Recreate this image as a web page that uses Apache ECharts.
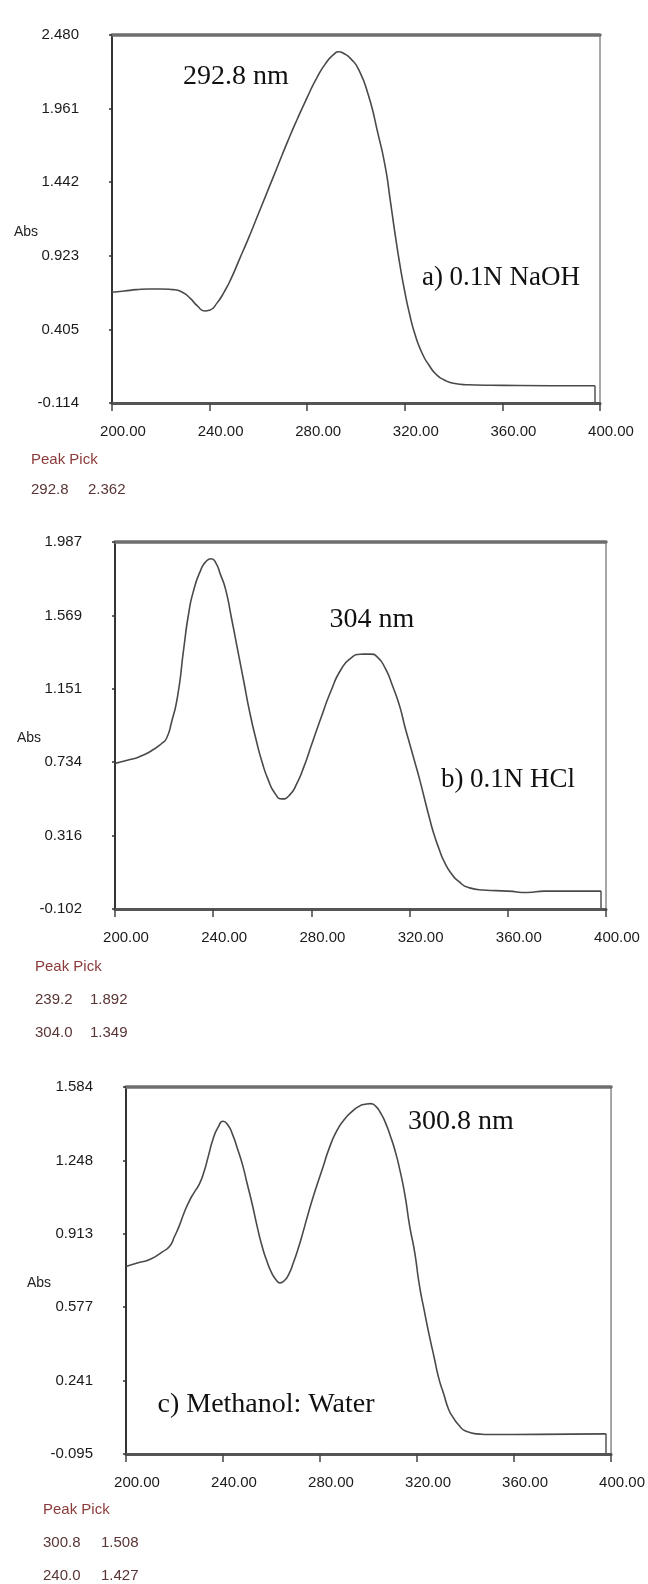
<!DOCTYPE html>
<html><head><meta charset="utf-8">
<script src="https://cdn.jsdelivr.net/npm/echarts@6/dist/echarts.min.js"></script>
<style>html,body{margin:0;padding:0;background:#fff}#c{width:648px;height:1584px}</style>
</head><body><div id="c"></div>
<script>
// ---------- data ----------
const xTickValues = [200, 240, 280, 320, 360, 400];
const yTicksA = ['-0.114', '0.405', '0.923', '1.442', '1.961', '2.480'];
const yTicksB = ['-0.102', '0.316', '0.734', '1.151', '1.569', '1.987'];
const yTicksC = ['-0.095', '0.241', '0.577', '0.913', '1.248', '1.584'];

const spectrumA = [
  [200,0.667],[205,0.675],[210,0.685],[215,0.69],[220,0.69],[225,0.685],[229,0.665],[232,0.625],
  [235,0.57],[238,0.535],[240,0.54],[243,0.59],[246,0.67],[249,0.77],[252,0.89],[256,1.05],
  [260,1.22],[264,1.39],[268,1.56],[272,1.73],[276,1.89],[280,2.04],[284,2.18],[288,2.29],
  [291,2.345],[292.8,2.362],[295,2.35],[298,2.31],[301,2.24],[305,2.06],[309,1.785],[312,1.55],
  [314,1.32],[316,1.08],[318,0.86],[320,0.67],[322,0.51],[324,0.38],[327,0.24],[330,0.15],
  [333,0.085],[336,0.05],[340,0.025],[345,0.015],[360,0.01],[380,0.008],[398,0.008]
];
const spectrumB = [
  [200,0.727],[205,0.745],[210,0.765],[215,0.80],[219,0.84],[221,0.87],[223,0.96],[225.5,1.11],
  [228,1.38],[230,1.58],[232,1.71],[235,1.83],[237,1.875],[239.2,1.892],[241,1.87],[243,1.80],
  [245,1.72],[247.5,1.55],[250,1.37],[252.5,1.19],[255,1.01],[257.5,0.86],[260,0.73],[262.5,0.63],
  [265,0.56],[268,0.525],[271,0.545],[274,0.61],[277,0.71],[280,0.83],[284,0.99],[288,1.14],
  [292,1.26],[296,1.325],[300,1.348],[304,1.349],[307,1.33],[310,1.27],[313,1.17],[316,1.05],
  [318,0.94],[320,0.84],[322,0.74],[324,0.64],[326,0.53],[328,0.42],[330,0.32],[332,0.24],
  [334,0.17],[337,0.10],[340,0.055],[344,0.02],[350,0.006],[360,0.0],[368,-0.008],[375,0.0],[398,0.0]
];
const spectrumC = [
  [200,0.763],[205,0.78],[210,0.796],[215,0.83],[218,0.855],[220,0.90],[222,0.95],[224,1.01],
  [226,1.06],[228,1.10],[230,1.135],[232,1.19],[234,1.27],[236,1.35],[238,1.40],[240,1.427],
  [242,1.41],[244,1.365],[246,1.30],[248,1.23],[250,1.14],[252,1.05],[254,0.95],[256,0.86],
  [258,0.79],[260,0.735],[262,0.70],[263.5,0.688],[265,0.695],[267,0.725],[269,0.78],[271,0.845],
  [273,0.92],[275,1.0],[278,1.11],[281,1.21],[284,1.31],[287,1.385],[290,1.435],[293,1.47],
  [296,1.495],[298.5,1.505],[300.8,1.508],[303,1.495],[305,1.465],[307,1.42],[309,1.36],[311,1.29],
  [313,1.20],[315,1.09],[317,0.945],[319,0.83],[321,0.675],[323,0.56],[325,0.45],[327,0.35],
  [329,0.25],[331,0.18],[333,0.11],[335,0.07],[337,0.04],[340,0.01],[345,-0.003],[350,-0.006],
  [370,-0.005],[398,-0.003]
];

const peaksA = [[292.8, 2.362]];
const peaksB = [[239.2, 1.892], [304.0, 1.349]];
const peaksC = [[300.8, 1.508], [240.0, 1.427]];

const peakLabels = ['292.8 nm', '304 nm', '300.8 nm'];
const solventLabels = ['a) 0.1N NaOH', 'b) 0.1N HCl', 'c) Methanol: Water'];

// ---------- layout ----------
const panels = [
  {grid:{left:112, top:35, width:488, height:368}, ticks:yTicksA, data:spectrumA, peaks:peaksA,
   nm:[236,77], sol:[501,278], abs:[14,232], pp:[31,460], rowGap:30, col2:57},
  {grid:{left:115, top:542, width:491, height:367}, ticks:yTicksB, data:spectrumB, peaks:peaksB,
   nm:[372,620], sol:[508,780], abs:[17,738], pp:[35,967], rowGap:33, col2:55},
  {grid:{left:126, top:1087, width:488, height:367}, ticks:yTicksC, data:spectrumC, peaks:peaksC,
   nm:[461,1122], sol:[266,1405], abs:[27,1283], pp:[43,1510], rowGap:33, col2:58}
];

const grids = [], xAxes = [], yAxes = [], series = [], graphics = [];
const sans = '"Liberation Sans", Arial, sans-serif';
const serif = '"Liberation Serif", "Times New Roman", serif';

panels.forEach((p, i) => {
  grids.push(Object.assign({show:true, borderColor:'#8a8a8a', borderWidth:1.5, backgroundColor:'#fff'}, p.grid));
  const ymin = parseFloat(p.ticks[0]), ymax = parseFloat(p.ticks[p.ticks.length-1]);
  const yint = (ymax - ymin) / (p.ticks.length - 1);
  xAxes.push({
    gridIndex:i, type:'value', min:xTickValues[0], max:xTickValues[xTickValues.length-1],
    interval:xTickValues[1]-xTickValues[0], position:'bottom',
    axisLine:{show:true, onZero:false, lineStyle:{color:'#555', width:3}},
    axisTick:{show:true, length:8, lineStyle:{color:'#444', width:1.5}},
    splitLine:{show:false},
    axisLabel:{margin:21, padding:[0,0,0,22], color:'#1a1a1a', fontSize:15, fontFamily:sans,
      formatter:v => v.toFixed(2), showMinLabel:true, showMaxLabel:true}
  });
  xAxes.push({
    gridIndex:i, type:'value', min:xTickValues[0], max:xTickValues[xTickValues.length-1], position:'top',
    axisLine:{show:true, onZero:false, lineStyle:{color:'#6e6e6e', width:3.5}},
    axisTick:{show:false}, axisLabel:{show:false}, splitLine:{show:false}
  });
  yAxes.push({
    gridIndex:i, type:'value', min:ymin, max:ymax, interval:yint,
    axisLine:{show:true, onZero:false, lineStyle:{color:'#333', width:2}},
    axisTick:{show:true, length:3, lineStyle:{color:'#333', width:1.5}},
    splitLine:{show:false},
    axisLabel:{margin:33, color:'#1a1a1a', fontSize:15, fontFamily:sans,
      formatter:v => {
        let best = 0, bd = Infinity;
        p.ticks.forEach((t, k) => { const d = Math.abs(parseFloat(t) - v); if (d < bd) { bd = d; best = k; } });
        return p.ticks[best];
      }}
  });
  const last = p.data[p.data.length-1];
  series.push({
    type:'line', xAxisIndex:i*2, yAxisIndex:i, data:p.data, showSymbol:false, smooth:0.6,
    lineStyle:{color:'#4a4a4a', width:1.6}, silent:true,
    markLine:{silent:true, symbol:'none', label:{show:false},
      lineStyle:{color:'#555', width:1.5, type:'solid'},
      data:[[{coord:[last[0], last[1]]}, {coord:[last[0], ymin]}]]}
  });
  // annotations
  graphics.push({type:'text', x:p.nm[0], y:p.nm[1], style:{text:peakLabels[i], font:'28px ' + serif,
    fill:'#111', align:'center', verticalAlign:'middle'}});
  graphics.push({type:'text', x:p.sol[0], y:p.sol[1], style:{text:solventLabels[i], font:(i===2?'28px ':'27px ') + serif,
    fill:'#111', align:'center', verticalAlign:'middle'}});
  graphics.push({type:'text', x:p.abs[0], y:p.abs[1], style:{text:'Abs', font:'14px ' + sans,
    fill:'#222', align:'left', verticalAlign:'middle'}});
  graphics.push({type:'text', x:p.pp[0], y:p.pp[1], style:{text:'Peak Pick', font:'15px ' + sans,
    fill:'#8b3a3a', align:'left', verticalAlign:'middle'}});
  p.peaks.forEach((pk, k) => {
    const yy = p.pp[1] + p.rowGap * (k + 1);
    graphics.push({type:'text', x:p.pp[0], y:yy, style:{text:pk[0].toFixed(1), font:'15px ' + sans,
      fill:'#5a3535', align:'left', verticalAlign:'middle'}});
    graphics.push({type:'text', x:p.pp[0] + p.col2, y:yy, style:{text:pk[1].toFixed(3), font:'15px ' + sans,
      fill:'#5a3535', align:'left', verticalAlign:'middle'}});
  });
});

const chart = echarts.init(document.getElementById('c'), null, {renderer:'canvas'});
chart.setOption({
  animation:false, backgroundColor:'#fff',
  grid:grids, xAxis:xAxes, yAxis:yAxes, series:series, graphic:graphics
});
</script></body></html>
